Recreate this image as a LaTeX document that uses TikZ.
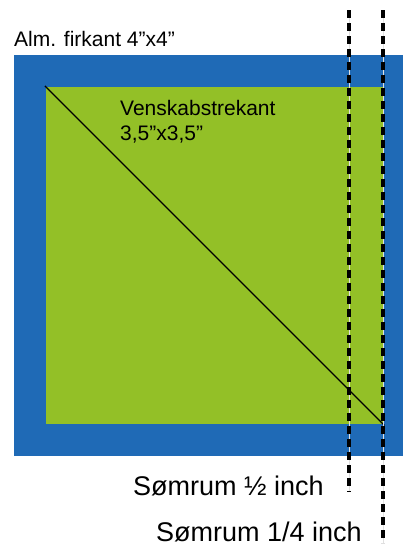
\documentclass[tikz,border=0pt]{standalone}
\usepackage{fontspec}
\setmainfont{Liberation Sans}
\definecolor{quiltblue}{RGB}{31,106,182}
\definecolor{quiltgreen}{RGB}{147,192,39}
\tikzset{
  outersq/.style={fill=quiltblue, draw=none, inner sep=0pt, anchor=north west, minimum width=389pt, minimum height=401pt},
  innersq/.style={fill=quiltgreen, draw=none, inner sep=0pt, anchor=north west, minimum width=337pt, minimum height=337pt},
  lbl/.style={inner sep=0pt, font=\fontsize{21}{25}\selectfont, text=black},
  biglbl/.style={inner sep=0pt, font=\fontsize{27}{32}\selectfont, text=black},
  seam/.style={line width=3.5pt, dash pattern=on 8pt off 5pt, draw=black, preaction={draw=black!12, line width=0.5pt, solid}},
  diag/.style={line width=1.3pt, draw=black, shorten <=-1.5pt, shorten >=-1.5pt}
}
\begin{document}
\begin{tikzpicture}[x=1pt,y=-1pt]
\useasboundingbox (0,0) rectangle (403,547);
\node[outersq] (alm) at (14,55) {};
\node[innersq] (vensk) at (46,87) {};
\draw[diag] (vensk.north west) -- (vensk.south east);
\node[lbl, anchor=base west] (almtxt) at (14,46) {Alm. firkant 4”x4”};
\node[lbl, anchor=north west, align=left] (venstxt) at (120,100.5) {Venskabstrekant\\3,5”x3,5”};
\coordinate (s1top) at (349,10);
\coordinate (s1bot) at (349,492);
\coordinate (s2top) at (383,10);
\coordinate (s2bot) at (383,543);
\draw[seam] (s1top) -- (s1bot);
\draw[seam] (s2top) -- (s2bot);
\node[biglbl, anchor=base west] (halftxt) at (133,495) {Sømrum ½ inch};
\node[biglbl, anchor=base west] (quartxt) at (156,541) {Sømrum 1/4 inch};
\end{tikzpicture}
\end{document}
